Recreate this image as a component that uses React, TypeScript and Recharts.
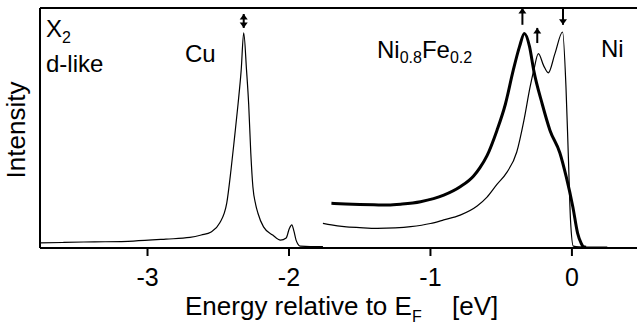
import { LineChart, Line, XAxis, YAxis, ReferenceLine, ReferenceDot } from "recharts";

// ─── Spectra (energy in eV relative to E_F, intensity in arb. units 0..100) ───
const cuE = [-3.76, -3.6, -3.45, -3.3, -3.1, -2.87, -2.7, -2.62, -2.55, -2.49, -2.44, -2.41, -2.385, -2.36, -2.338, -2.32, -2.3, -2.285, -2.27, -2.255, -2.235, -2.22, -2.18, -2.115, -2.06, -2.02, -1.998, -1.98, -1.965, -1.95, -1.92, -1.85, -1.76];
const cuI = [2.1, 2.3, 2.5, 2.6, 2.9, 3.7, 4.4, 5.4, 6.7, 10.4, 18.7, 32.5, 46, 60, 74, 89.6, 74, 60, 39.6, 25.4, 18, 14.6, 8.8, 5.4, 3.3, 4.2, 8, 9.6, 7, 3.3, 0.8, 0.6, 0.6];

const nfE = [-1.7, -1.6, -1.5, -1.4, -1.3, -1.2, -1.07, -0.906, -0.79, -0.695, -0.65, -0.6, -0.53, -0.47, -0.415, -0.37, -0.336, -0.3, -0.27, -0.21, -0.155, -0.085, -0.04, 0.007, 0.04, 0.065, 0.08, 0.1];
const nfI = [18.6, 18.3, 18.1, 18, 17.9, 18.3, 19.3, 22, 25.5, 30, 33.5, 38.5, 49, 60, 74, 84, 89.4, 84, 74, 60, 49, 39.6, 29.6, 17, 6.2, 2, 0.6, 0.3];

const niE = [-1.76, -1.7, -1.61, -1.5, -1.375, -1.25, -1.14, -1.0, -0.906, -0.79, -0.67, -0.6, -0.53, -0.46, -0.39, -0.34, -0.296, -0.27, -0.237, -0.2, -0.167, -0.12, -0.066, -0.042, -0.026, -0.01, 0.01, 0.05, 0.15, 0.25];
const niI = [10.3, 9.6, 8.9, 8.5, 8.2, 8.4, 8.9, 10.2, 11.7, 13.7, 17.5, 21.2, 26.5, 31.5, 40, 53, 67, 74, 81, 76, 73, 81, 90, 67, 39.6, 11.7, 0.8, 0.5, 0.4, 0.4];

const xTicks = [-3, -2, -1, 0];
const xDomain = [-3.76, 0.46];

// peak markers: energy, lower / upper end of the arrow, head direction
const arrowE = [-2.32, -0.35, -0.245, -0.063];
const arrowLo = [91.7, 93, 85.4, 93];
const arrowHi = [97.5, 100, 91.7, 100];
const arrowDir = ["both", "up", "up", "down"];

const toRows = (e: number[], v: number[]) => e.map((x, i) => ({ e: x, v: v[i] }));
const cuData = toRows(cuE, cuI);
const nfData = toRows(nfE, nfI);
const niData = toRows(niE, niI);

const FONT = "'Liberation Sans', Arial, Helvetica, sans-serif";

const UpHead = ({ cx, cy }: any) => (
  <polygon points={`${cx},${cy} ${cx - 4},${cy + 5.5} ${cx + 4},${cy + 5.5}`} fill="#000" />
);
const DownHead = ({ cx, cy }: any) => (
  <polygon points={`${cx},${cy} ${cx - 4},${cy - 5.5} ${cx + 4},${cy - 5.5}`} fill="#000" />
);

export default function App() {
  return (
    <div style={{ position: "absolute", left: 0, top: 0, width: 637, height: 326, background: "#fff", fontFamily: FONT }}>
      <LineChart width={637} height={326} margin={{ top: 8, right: 0, left: 40, bottom: 38 }}>
        <XAxis
          dataKey="e" type="number" domain={xDomain} allowDataOverflow ticks={xTicks}
          height={40} tickSize={8} tickMargin={12}
          axisLine={{ stroke: "#000", strokeWidth: 2 }}
          tickLine={{ stroke: "#000", strokeWidth: 2 }}
          tick={{ fontSize: 25, fill: "#000", fontFamily: FONT }}
        />
        <YAxis type="number" domain={[0, 100]} allowDataOverflow hide />
        <ReferenceLine y={100} stroke="#000" strokeWidth={2} />
        <ReferenceLine x={xDomain[0]} stroke="#000" strokeWidth={2} />

        <Line data={cuData} dataKey="v" type="monotone" stroke="#000" strokeWidth={1.2} dot={false} isAnimationActive={false} />
        <Line data={niData} dataKey="v" type="monotone" stroke="#000" strokeWidth={1.2} dot={false} isAnimationActive={false} />
        <Line data={nfData} dataKey="v" type="monotone" stroke="#000" strokeWidth={3} dot={false} isAnimationActive={false} />

        {arrowE.map((x, i) => (
          <ReferenceLine key={`s${i}`} segment={[{ x, y: arrowLo[i] }, { x, y: arrowHi[i] }]} stroke="#000" strokeWidth={2} ifOverflow="visible" />
        ))}
        {arrowE.map((x, i) =>
          arrowDir[i] !== "down" ? (
            <ReferenceDot key={`u${i}`} x={x} y={arrowHi[i]} ifOverflow="visible" shape={UpHead} />
          ) : null
        )}
        {arrowE.map((x, i) =>
          arrowDir[i] !== "up" ? (
            <ReferenceDot key={`d${i}`} x={x} y={arrowLo[i]} ifOverflow="visible" shape={DownHead} />
          ) : null
        )}
      </LineChart>

      <svg width={637} height={326} style={{ position: "absolute", left: 0, top: 0, pointerEvents: "none" }} fontFamily={FONT} fill="#000">
        <text x={25} y={130} fontSize={26} textAnchor="middle" transform="rotate(-90 25 130)">Intensity</text>
        <text x={185} y={315} fontSize={26}>Energy relative to E</text>
        <text x={412} y={322} fontSize={16}>F</text>
        <text x={452} y={315} fontSize={26}>[eV]</text>

        <text x={46} y={37} fontSize={24}>X</text>
        <text x={62} y={43} fontSize={16}>2</text>
        <text x={46} y={72} fontSize={24}>d-like</text>
        <text x={185} y={62} fontSize={24}>Cu</text>
        <text x={377} y={58} fontSize={24}>
          Ni<tspan fontSize={16} dy={5}>0.8</tspan>
          <tspan fontSize={24} dy={-5}>Fe</tspan>
          <tspan fontSize={16} dy={5}>0.2</tspan>
        </text>
        <text x={601} y={57} fontSize={24}>Ni</text>
      </svg>
    </div>
  );
}
